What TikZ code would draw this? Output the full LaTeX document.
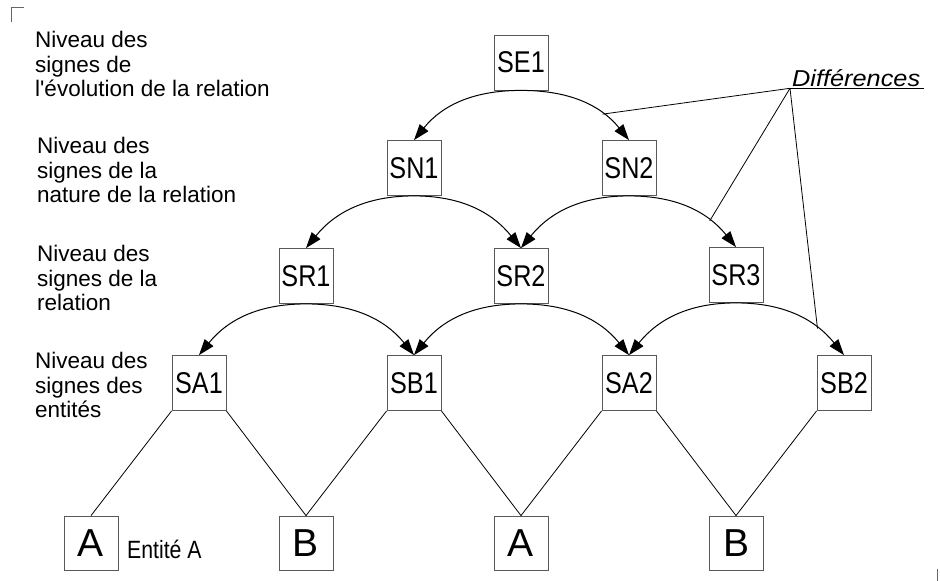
\documentclass[tikz,border=0pt]{standalone}
\usepackage{fontspec}
\usepackage{graphicx}
\setmainfont{Liberation Sans}
\usetikzlibrary{arrows.meta}
\newcommand\narrow[1]{\scalebox{0.84}[1]{#1}}
\begin{document}
\begin{tikzpicture}[x=1pt,y=1pt,
  signbox/.style={draw=black!65, line width=0.8pt, minimum width=54pt, minimum height=55pt,
    inner sep=0pt, font=\fontsize{30}{31}\selectfont},
  entbox/.style={draw=black!65, line width=0.8pt, minimum width=54pt, minimum height=54pt,
    inner sep=0pt, font=\fontsize{39}{40}\selectfont},
  levellabel/.style={anchor=north west, inner sep=0pt, align=left,
    font=\fontsize{22.5}{24.5}\selectfont},
  derive/.style={line width=1pt, -{Triangle[length=16pt,width=11pt]}},
  leftarc/.style={derive, out=180, in=51},
  rightarc/.style={derive, out=0, in=129},
  link/.style={line width=0.8pt},
  marker/.style={draw=black!60, line width=0.8pt}]
\useasboundingbox (0,0) rectangle (940,-581);

% crop marks
\draw[marker] (24,-7.7) -- (11.7,-7.7) -- (11.7,-21.7);
\draw[marker] (937,-569) -- (937,-581);

% level labels
\node[levellabel] (L1) at (35,-31) {Niveau des\\signes de\\l\textquotesingle évolution de la relation};
\node[levellabel] (L2) at (37,-137) {Niveau des\\signes de la\\nature de la relation};
\node[levellabel] (L3) at (37,-245) {Niveau des\\signes de la\\relation};
\node[levellabel] (L4) at (35,-352) {Niveau des\\signes des\\entités};

% sign boxes
\node[signbox] (SE1) at (521,-62.5) {\narrow{SE1}};
\node[signbox] (SN1) at (414,-168) {\narrow{SN1}};
\node[signbox] (SN2) at (629,-168) {\narrow{SN2}};
\node[signbox] (SR1) at (306,-276) {\narrow{SR1}};
\node[signbox] (SR2) at (521,-276) {\narrow{SR2}};
\node[signbox] (SR3) at (736,-275) {\narrow{SR3}};
\node[signbox] (SA1) at (199,-383) {\narrow{SA1}};
\node[signbox] (SB1) at (414,-383) {\narrow{SB1}};
\node[signbox] (SA2) at (629,-383) {\narrow{SA2}};
\node[signbox] (SB2) at (844,-383) {\narrow{SB2}};

% entity boxes
\node[entbox] (A1) at (91,-543) {A};
\node[entbox] (B1) at (306,-543) {B};
\node[entbox] (A2) at (521,-543) {A};
\node[entbox] (B2) at (736,-543) {B};
\node[anchor=base west, inner sep=0pt, font=\fontsize{25}{26}\selectfont] (entA) at (127,-558)
  {\scalebox{0.85}[1]{Entité A}};

% derivation arcs
\draw[leftarc] (SE1.south) to (SN1.north);
\draw[rightarc] (SE1.south) to coordinate[pos=0.71] (d1) (SN2.north);
\draw[leftarc] (SN1.south) to (SR1.north);
\draw[rightarc] (SN1.south) to (SR2.north);
\draw[leftarc] (SN2.south) to (SR2.north);
\draw[rightarc] (SN2.south) to coordinate[pos=0.71] (d2) (SR3.north);
\draw[leftarc] (SR1.south) to (SA1.north);
\draw[rightarc] (SR1.south) to (SB1.north);
\draw[leftarc] (SR2.south) to (SB1.north);
\draw[rightarc] (SR2.south) to (SA2.north);
\draw[leftarc] (SR3.south) to (SA2.north);
\draw[rightarc] (SR3.south) to coordinate[pos=0.71] (d3) (SB2.north);

% links to the entities
\draw[link] (SA1.south west) -- (A1.north);
\draw[link] (SA1.south east) -- (B1.north);
\draw[link] (SB1.south west) -- (B1.north);
\draw[link] (SB1.south east) -- (A2.north);
\draw[link] (SA2.south west) -- (A2.north);
\draw[link] (SA2.south east) -- (B2.north);
\draw[link] (SB2.south west) -- (B2.north);

% differences callout
\node[anchor=base west, inner sep=0pt, font=\fontsize{23}{24}\selectfont\itshape] (diff) at (792,-86)
  {\scalebox{1.1}[1]{Différences}};
\coordinate (dl) at (790,-88.3);
\draw[link] (dl) -- ++(134,0);
\draw[link] (dl) -- (d1);
\draw[link] (dl) -- (d2);
\draw[link] (dl) -- (d3);
\end{tikzpicture}
\end{document}
